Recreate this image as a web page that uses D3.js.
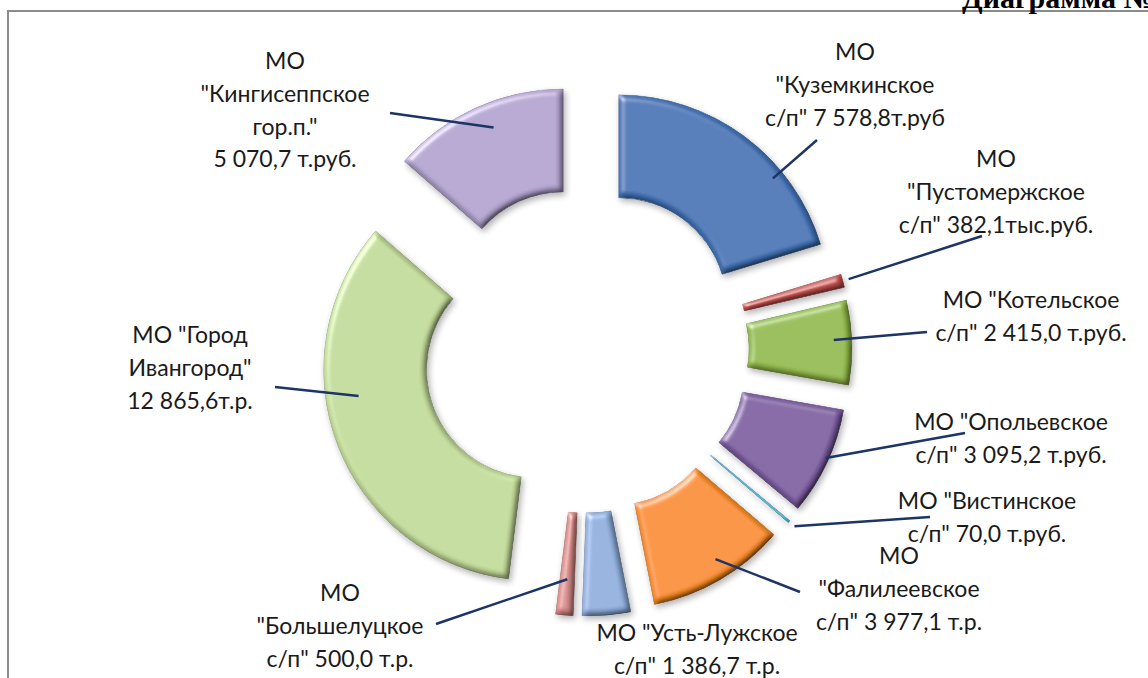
<!DOCTYPE html>
<html>
<head>
<meta charset="utf-8">
<script src="https://cdn.jsdelivr.net/npm/d3@7"></script>
<style>
  body { margin: 0; background: #fff; }
  svg { display: block; }
  .lbl { font-family: Lato, "Open Sans", sans-serif; font-size: 23px; fill: #1a1a1a; }
  .title { font-family: "Liberation Serif", serif; font-weight: bold; font-size: 30px; fill: #000; }
</style>
</head>
<body>
<svg id="chart"></svg>
<script>
// data (thousand roubles)
const categories = [
    'МО "Куземкинское с/п"', 'МО "Пустомержское с/п"', 'МО "Котельское с/п"',
    'МО "Опольевское с/п"', 'МО "Вистинское с/п"', 'МО "Фалилеевское с/п"',
    'МО "Усть-Лужское с/п"', 'МО "Большелуцкое с/п"', 'МО "Город Ивангород"',
    'МО "Кингисеппское гор.п."'
];
const values = [7578.8, 382.1, 2415.0, 3095.2, 70.0, 3977.1, 1386.7, 500.0, 12865.6, 5070.7];
const colors = ['#4272b4', '#c0504d', '#92b84a', '#7b5c9f', '#4bacc6',
    '#f68c28', '#8fadda', '#d38986', '#c0d898', '#b0a2cc'];
// label text, {v} is replaced by the formatted value
const labelLines = [
    ['МО', '"Куземкинское', 'с/п" {v}т.руб'],
    ['МО', '"Пустомержское', 'с/п" {v}тыс.руб.'],
    ['МО "Котельское', 'с/п" {v} т.руб.'],
    ['МО "Опольевское', 'с/п" {v} т.руб.'],
    ['МО "Вистинское', 'с/п" {v} т.руб.'],
    ['МО', '"Фалилеевское', 'с/п" {v} т.р.'],
    ['МО "Усть-Лужское', 'с/п" {v} т.р.'],
    ['МО', '"Большелуцкое', 'с/п" {v} т.р.'],
    ['МО "Город', 'Ивангород"', '{v}т.р.'],
    ['МО', '"Кингисеппское', 'гор.п."', '{v} т.руб.']
];

// layout: label centre / first line, leader start, leader tip (fraction of slice span, radius)
const labelPos = [
    {x: 855, y: 52, lx: 817, ly: 140, t: 0.69, r: 200},
    {x: 996, y: 159, lx: 982, ly: 236, t: 0.5, r: 217},
    {x: 1031, y: 300, lx: 927, ly: 332, t: 0.46, r: 193},
    {x: 1011, y: 422, lx: 965, ly: 433, t: 0.47, r: 208},
    {x: 987, y: 501, lx: 930, ly: 517, t: 0.5, r: 218},
    {x: 899, y: 556, lx: 800, ly: 592, t: 0.45, r: 191},
    {x: 697, y: 633, lx: null, ly: null},
    {x: 340, y: 593, lx: 436, ly: 624, t: 0.5, r: 175},
    {x: 190, y: 335, lx: 275, ly: 387, t: 0.6, r: 178},
    {x: 285, y: 61, lx: 390, ly: 113, t: 0.55, r: 186}
];

const W = 1148, H = 678;
const cx = 586, cy = 350, rIn = 108, rOut = 211, explode = 55, lineGap = 32.7;

const ru = d3.formatLocale({decimal: ',', thousands: '\u00a0', grouping: [3], currency: ['', '']});
const fmt = ru.format(',.1f');

const svg = d3.select('#chart').attr('width', W).attr('height', H);

// bevel + soft shadow
const defs = svg.append('defs');
const f = defs.append('filter').attr('id', 'bevel')
    .attr('x', '-20%').attr('y', '-20%').attr('width', '140%').attr('height', '140%');
f.append('feGaussianBlur').attr('in', 'SourceAlpha').attr('stdDeviation', 3).attr('result', 'b');
f.append('feDiffuseLighting').attr('in', 'b').attr('surfaceScale', 5).attr('diffuseConstant', 1.18)
    .attr('lighting-color', '#fff').attr('result', 'd')
    .append('feDistantLight').attr('azimuth', 225).attr('elevation', 58);
f.append('feSpecularLighting').attr('in', 'b').attr('surfaceScale', 5).attr('specularConstant', 0.8)
    .attr('specularExponent', 16).attr('lighting-color', '#fff').attr('result', 's')
    .append('feDistantLight').attr('azimuth', 225).attr('elevation', 30);
f.append('feComposite').attr('in', 'SourceGraphic').attr('in2', 'd').attr('operator', 'arithmetic')
    .attr('k1', 1).attr('k2', 0).attr('k3', 0).attr('k4', 0).attr('result', 'm');
f.append('feComposite').attr('in', 'm').attr('in2', 's').attr('operator', 'arithmetic')
    .attr('k1', 0).attr('k2', 1).attr('k3', 0.6).attr('k4', 0).attr('result', 'ms');
f.append('feComposite').attr('in', 'ms').attr('in2', 'SourceAlpha').attr('operator', 'in').attr('result', 'lit');
f.append('feGaussianBlur').attr('in', 'SourceAlpha').attr('stdDeviation', 3).attr('result', 'sb');
f.append('feOffset').attr('in', 'sb').attr('dx', 2).attr('dy', 3).attr('result', 'so');
f.append('feComponentTransfer').attr('in', 'so').attr('result', 'sh')
    .append('feFuncA').attr('type', 'linear').attr('slope', 0.3);
const mg = f.append('feMerge');
mg.append('feMergeNode').attr('in', 'sh');
mg.append('feMergeNode').attr('in', 'lit');

// frame and title (cut by the page top as in the source)
svg.append('rect').attr('x', 8).attr('y', 11).attr('width', W + 20).attr('height', H + 20)
    .attr('fill', 'none').attr('stroke', '#8c8c8c').attr('stroke-width', 2);
svg.append('text').attr('class', 'title').attr('x', 962).attr('y', 8).text('Диаграмма №1');

const pie = d3.pie().sort(null).value(d => d)(values);
const arc = d3.arc().innerRadius(rIn).outerRadius(rOut);

function offset(d) {
    const mid = (d.startAngle + d.endAngle) / 2;
    return [cx + explode * Math.sin(mid), cy - explode * Math.cos(mid)];
}

const g = svg.append('g');
g.selectAll('path.slice')
    .data(pie)
    .enter()
    .append('path')
    .attr('class', 'slice')
    .attr('transform', d => 'translate(' + offset(d) + ')')
    .attr('d', arc)
    .attr('fill', (d, i) => colors[i])
    .attr('stroke', (d, i) => d3.color(colors[i]).darker(0.6))
    .attr('stroke-width', 0.8)
    .attr('filter', 'url(#bevel)');

// leader lines
g.selectAll('line.leader')
    .data(pie.filter((d, i) => labelPos[i].lx !== null))
    .enter()
    .append('line')
    .attr('class', 'leader')
    .each(function (d) {
        const p = labelPos[d.index];
        const o = offset(d);
        const a = d.startAngle + p.t * (d.endAngle - d.startAngle);
        d3.select(this)
            .attr('x1', p.lx).attr('y1', p.ly)
            .attr('x2', o[0] + p.r * Math.sin(a))
            .attr('y2', o[1] - p.r * Math.cos(a));
    })
    .attr('stroke', '#1c3466')
    .attr('stroke-width', 2.5);

// labels
pie.forEach((d, i) => {
    const p = labelPos[i];
    const t = svg.append('text').attr('class', 'lbl').attr('text-anchor', 'middle');
    labelLines[i].forEach((line, k) => {
        t.append('tspan')
            .attr('x', p.x)
            .attr('y', p.y + k * lineGap)
            .attr('dy', '0.36em')
            .text(line.replace('{v}', fmt(d.data)));
    });
});
</script>
</body>
</html>
